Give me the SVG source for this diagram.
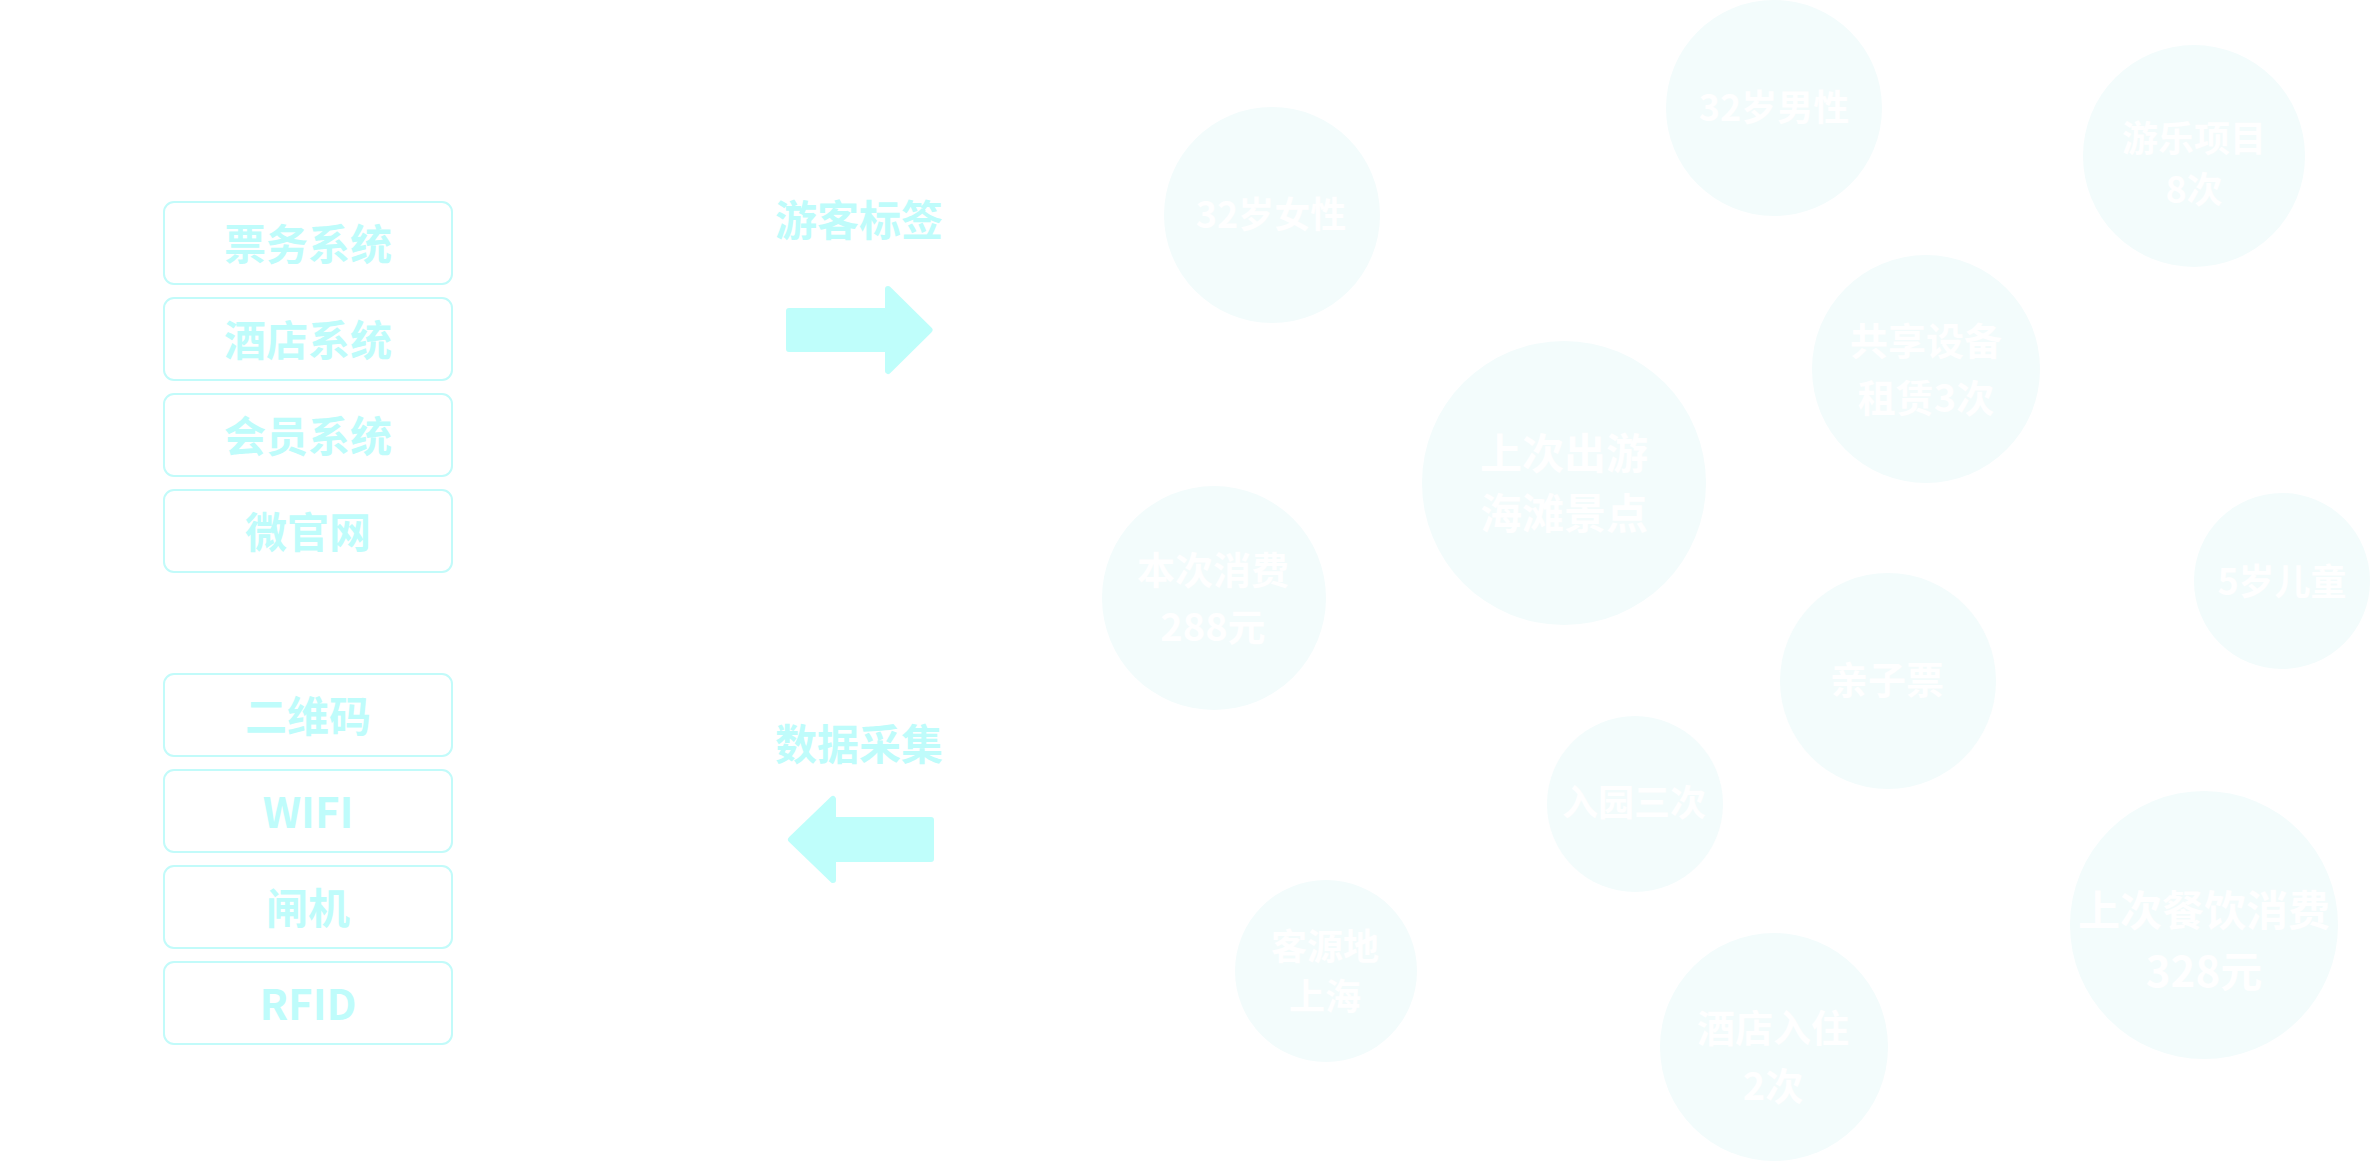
<svg xmlns="http://www.w3.org/2000/svg" width="2370" height="1162" viewBox="0 0 2370 1162">
<style>
text{font-family:"Noto Sans CJK SC","Noto Sans",sans-serif;font-weight:700;text-anchor:middle}
.box rect{fill:none;stroke:#c2fbfa;stroke-width:2}
.box text{fill:#bffcfb;font-size:42px}
.lbl{fill:#bffcfb;font-size:42px}
.arrow{fill:#bffefb;stroke:#bffefb;stroke-width:6;stroke-linejoin:round}
.tag circle{fill:#f3fcfc}
.tag text{fill:#ffffff}
</style>
<rect width="2370" height="1162" fill="#ffffff"/>
<g id="sources-top">
<g id="box-piaowu" class="box"><rect x="164" y="202" width="288" height="82" rx="10"/><text x="308" y="260">票务系统</text></g>
<g id="box-jiudian" class="box"><rect x="164" y="298" width="288" height="82" rx="10"/><text x="308" y="356">酒店系统</text></g>
<g id="box-huiyuan" class="box"><rect x="164" y="394" width="288" height="82" rx="10"/><text x="308" y="452">会员系统</text></g>
<g id="box-weiguanwang" class="box"><rect x="164" y="490" width="288" height="82" rx="10"/><text x="308" y="548">微官网</text></g>
</g>
<g id="sources-bottom">
<g id="box-erweima" class="box"><rect x="164" y="674" width="288" height="82" rx="10"/><text x="308" y="732">二维码</text></g>
<g id="box-wifi" class="box"><rect x="164" y="770" width="288" height="82" rx="10"/><text x="308" y="828">WIFI</text></g>
<g id="box-zhaji" class="box"><rect x="164" y="866" width="288" height="82" rx="10"/><text x="308" y="924">闸机</text></g>
<g id="box-rfid" class="box"><rect x="164" y="962" width="288" height="82" rx="10"/><text x="308" y="1020">RFID</text></g>
</g>
<g id="connectors">
<g id="arrow-tags">
<text class="lbl" x="859" y="236">游客标签</text>
<path class="arrow" d="M789,311 H888 V289 L929.5,330 L888,371 V349 H789 Z"/>
</g>
<g id="arrow-collect">
<text class="lbl" x="859" y="760">数据采集</text>
<path class="arrow" d="M791,839.5 L833,799 V820 H931 V859 H833 V880 Z"/>
</g>
</g>
<g id="tags">
<g id="tag-female" class="tag"><circle cx="1272" cy="215" r="108"/><text x="1271" y="228" font-size="36">32岁女性</text></g>
<g id="tag-male" class="tag"><circle cx="1774" cy="108" r="108"/><text x="1774" y="121" font-size="36">32岁男性</text></g>
<g id="tag-rides" class="tag"><circle cx="2194" cy="156" r="111"/><text x="2194" y="152" font-size="36">游乐项目</text><text x="2194" y="203" font-size="36">8次</text></g>
<g id="tag-rent" class="tag"><circle cx="1926" cy="369" r="114"/><text x="1926" y="355" font-size="38">共享设备</text><text x="1926" y="412" font-size="38">租赁3次</text></g>
<g id="tag-beach" class="tag"><circle cx="1564" cy="483" r="142"/><text x="1564" y="469" font-size="42">上次出游</text><text x="1564" y="529" font-size="42">海滩景点</text></g>
<g id="tag-spend" class="tag"><circle cx="1214" cy="598" r="112"/><text x="1213" y="584" font-size="38">本次消费</text><text x="1213" y="641" font-size="38">288元</text></g>
<g id="tag-child" class="tag"><circle cx="2282" cy="581" r="88"/><text x="2282" y="595" font-size="36">5岁儿童</text></g>
<g id="tag-family" class="tag"><circle cx="1888" cy="681" r="108"/><text x="1887" y="694" font-size="38">亲子票</text></g>
<g id="tag-visits" class="tag"><circle cx="1635" cy="804" r="88"/><text x="1634" y="816" font-size="36">入园三次</text></g>
<g id="tag-dining" class="tag"><circle cx="2204" cy="925" r="134"/><text x="2204" y="926" font-size="42">上次餐饮消费</text><text x="2204" y="987" font-size="42">328元</text></g>
<g id="tag-origin" class="tag"><circle cx="1326" cy="971" r="91"/><text x="1325" y="960" font-size="36">客源地</text><text x="1325" y="1010" font-size="36">上海</text></g>
<g id="tag-hotel" class="tag"><circle cx="1774" cy="1047" r="114"/><text x="1773" y="1042" font-size="38">酒店入住</text><text x="1773" y="1100" font-size="38">2次</text></g>
</g>
</svg>
